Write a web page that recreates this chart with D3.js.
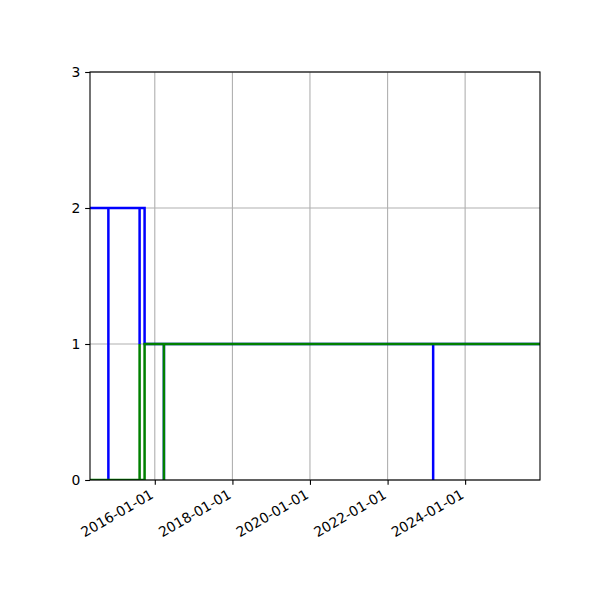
<!DOCTYPE html>
<html>
<head>
<meta charset="utf-8">
<script src="https://cdn.jsdelivr.net/npm/d3@7"></script>
<style>
  body { margin: 0; background: #fff; }
  text { font-family: "DejaVu Sans", sans-serif; }
</style>
</head>
<body>
<div id="chart"></div>
<script>
// Series (step lines, repeated date = instant drop/rise)
const blueDates  = ['2014-05-01', '2014-10-21', '2014-10-21', '2015-08-11', '2015-08-11', '2015-09-27',
                    '2016-03-27', '2016-03-27', '2023-03-06', '2023-03-06', '2025-12-06'];
const blueValues = [2, 0, 2, 1, 2, 1, 0, 1, 0, 1, 1];
const greenDates  = ['2014-05-01', '2015-08-11', '2015-08-11', '2015-09-27', '2016-03-27', '2016-03-27', '2025-12-06'];
const greenValues = [0, 1, 0, 1, 0, 1, 1];
const xTickDates = ['2016-01-01', '2018-01-01', '2020-01-01', '2022-01-01', '2024-01-01'];
const yTicks = [0, 1, 2, 3];
const xDomain = ['2014-05-01', '2025-12-06'];

const W = 600, H = 600;
const margin = { left: 90, top: 72, right: 60, bottom: 120 };
const width = W - margin.left - margin.right;
const height = H - margin.top - margin.bottom;
const parse = d3.timeParse('%Y-%m-%d');
const format = d3.timeFormat('%Y-%m-%d');
const fontPx = 13.9;
const tickLen = 4.86;

const svg = d3.select('#chart').append('svg')
  .attr('width', W)
  .attr('height', H);
const g = svg.append('g')
  .attr('transform', `translate(${margin.left},${margin.top})`);

const xScale = d3.scaleTime()
  .domain(xDomain.map(parse))
  .range([0, width]);
const yScale = d3.scaleLinear()
  .domain([0, 3])
  .range([height, 0]);

// Grid
g.append('g').selectAll('line')
  .data(xTickDates)
  .enter().append('line')
  .attr('x1', d => xScale(parse(d)))
  .attr('x2', d => xScale(parse(d)))
  .attr('y1', 0)
  .attr('y2', height)
  .attr('stroke', '#b0b0b0')
  .attr('stroke-width', 1.1);
g.append('g').selectAll('line')
  .data(yTicks)
  .enter().append('line')
  .attr('x1', 0)
  .attr('x2', width)
  .attr('y1', d => yScale(d))
  .attr('y2', d => yScale(d))
  .attr('stroke', '#b0b0b0')
  .attr('stroke-width', 1.1);

// Clip lines to the plot area
svg.append('defs').append('clipPath')
  .attr('id', 'clip')
  .append('rect')
  .attr('width', width)
  .attr('height', height);

const line = d3.line()
  .x(d => xScale(parse(d[0])))
  .y(d => yScale(d[1]))
  .curve(d3.curveStepAfter);

const series = [
  { dates: blueDates, values: blueValues, color: '#0000ff' },
  { dates: greenDates, values: greenValues, color: '#008000' }
];
series.forEach(s => {
  g.append('path')
    .datum(d3.zip(s.dates, s.values))
    .attr('clip-path', 'url(#clip)')
    .attr('fill', 'none')
    .attr('stroke', s.color)
    .attr('stroke-width', 2.5)
    .attr('d', line);
});

// Axes
const xAxis = d3.axisBottom(xScale)
  .tickValues(xTickDates.map(parse))
  .tickFormat(format)
  .tickSize(tickLen)
  .tickPadding(tickLen);
const xg = g.append('g')
  .attr('transform', `translate(0,${height})`)
  .call(xAxis);
xg.select('.domain').remove();
xg.selectAll('line').attr('stroke', '#000').attr('stroke-width', 1.1);
xg.selectAll('text')
  .attr('font-size', fontPx)
  .attr('fill', '#000')
  .attr('text-anchor', 'end')
  .attr('dy', null)
  .attr('y', null)
  .attr('dominant-baseline', 'hanging')
  .attr('transform', `translate(-6,${tickLen * 2 - 1.5}) rotate(-30)`);

const yAxis = d3.axisLeft(yScale)
  .tickValues(yTicks)
  .tickFormat(d3.format('d'))
  .tickSize(tickLen)
  .tickPadding(tickLen);
const yg = g.append('g').call(yAxis);
yg.select('.domain').remove();
yg.selectAll('line').attr('stroke', '#000').attr('stroke-width', 1.1);
yg.selectAll('text')
  .attr('font-size', fontPx)
  .attr('fill', '#000');

// Spines
g.append('rect')
  .attr('width', width)
  .attr('height', height)
  .attr('fill', 'none')
  .attr('stroke', '#000')
  .attr('stroke-width', 1.1);
</script>
</body>
</html>
